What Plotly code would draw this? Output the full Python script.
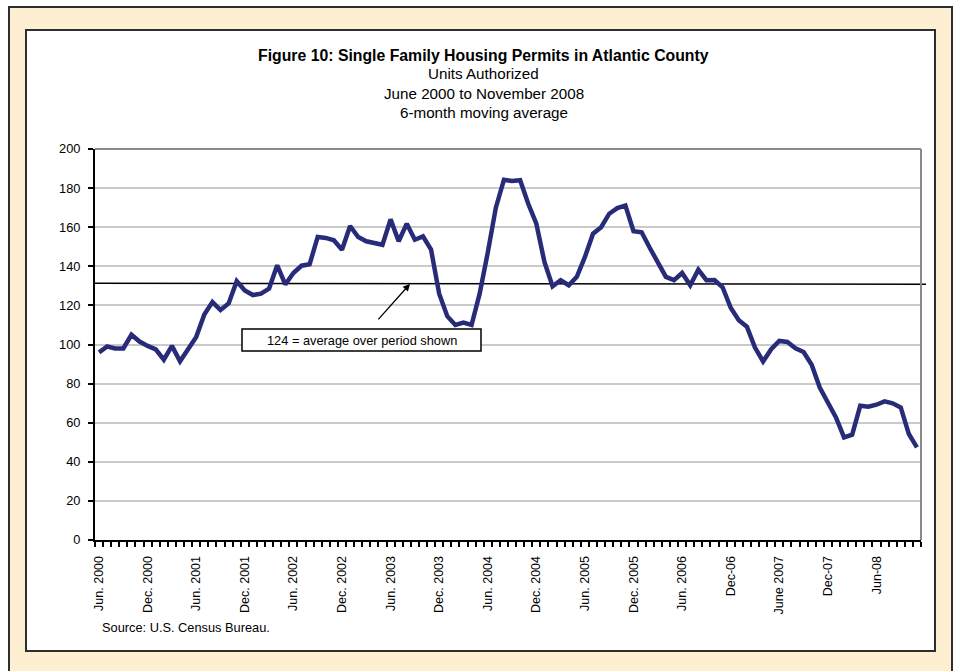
import plotly.graph_objects as go

# ---------------- data ----------------
tick_labels = ["Jun. 2000", "Dec. 2000", "Jun. 2001", "Dec. 2001", "Jun. 2002", "Dec. 2002",
               "Jun. 2003", "Dec. 2003", "Jun. 2004", "Dec. 2004", "Jun. 2005", "Dec. 2005",
               "Jun. 2006", "Dec-06", "June 2007", "Dec-07", "Jun-08"]
tick_positions = [0, 6, 12, 18, 24, 30, 36, 42, 48, 54, 60, 66, 72, 78, 84, 90, 96]

permits = [96, 99, 98, 98, 105, 101.5, 99.3, 97.5, 92.2, 99.3,
           91.4, 97.6, 103.9, 115.4, 121.7, 117.6, 121, 132.4, 127.6, 125.3,
           126, 128.6, 140.5, 130.7, 136.6, 140.3, 141, 155, 154.5, 153.3,
           148.5, 160.6, 155, 152.8, 152, 151, 164, 152.8, 161.8, 153.6,
           155.3, 148.5, 126, 114.5, 110, 111.2, 110, 126, 147, 170,
           184.3, 183.6, 184, 172, 161.8, 142.2, 129.8, 132.9, 130.3, 134.6,
           144.8, 156.7, 160, 166.9, 169.8, 171.1, 158, 157.4, 149.5, 142.2,
           134.6, 132.9, 136.6, 130.3, 138.3, 132.9, 133, 129.3, 118.8, 112.4,
           109.1, 98.4, 91.3, 97.6, 101.8, 101.3, 98.1, 96.2, 89.6, 78,
           70.4, 62.7, 52.5, 53.9, 68.7, 68.2, 69.2, 70.9, 69.9, 67.8,
           54.2, 47.4]
months = list(range(len(permits)))

avg_line_start = 131.3
avg_line_end = 130.8
avg_label = "124 = average over period shown"

# ---------------- layout helpers (pixel -> paper) ----------------
W, H = 956, 671
L, R, T, B = 95, 921, 149, 540


def px(xp):
    return (xp - L) / (R - L)


def py(yp):
    return (B - yp) / (B - T)


FONT = "Arial, 'Liberation Sans', sans-serif"
NAVY = "#282C78"

fig = go.Figure()
fig.add_trace(go.Scatter(x=months, y=permits, mode="lines",
                         line=dict(color=NAVY, width=4.5), hoverinfo="skip",
                         showlegend=False))

shapes = [
    # outer cream frame
    dict(type="rect", xref="paper", yref="paper", x0=px(9), x1=px(952), y0=py(680), y1=py(7),
         fillcolor="#FEEFD3", line=dict(color="#2E2E2E", width=2), layer="below"),
    # inner white panel
    dict(type="rect", xref="paper", yref="paper", x0=px(26), x1=px(935), y0=py(651), y1=py(30),
         fillcolor="white", line=dict(color="#2E2E2E", width=2), layer="below"),
    # average line
    dict(type="line", xref="paper", yref="y", x0=0, x1=px(926), y0=avg_line_start, y1=avg_line_end,
         line=dict(color="black", width=1.5), layer="below"),
    # plot-area top and right border
    dict(type="line", xref="paper", yref="paper", x0=0, x1=1, y0=1, y1=1,
         line=dict(color="#8A8A8A", width=2), layer="above"),
    dict(type="line", xref="paper", yref="paper", x0=1, x1=1, y0=0, y1=1,
         line=dict(color="#8A8A8A", width=2), layer="above"),
    # annotation box
    dict(type="rect", xref="paper", yref="paper", x0=px(242), x1=px(481), y0=py(351), y1=py(329),
         fillcolor="white", line=dict(color="black", width=1.5), layer="above"),
]

annotations = [
    dict(xref="paper", yref="paper", x=px(483.5), y=py(55), text="<b>Figure 10: Single Family Housing Permits in Atlantic County</b>",
         showarrow=False, font=dict(family=FONT, size=15.8, color="black"), xanchor="center", yanchor="middle"),
    dict(xref="paper", yref="paper", x=px(483.5), y=py(74), text="Units Authorized",
         showarrow=False, font=dict(family=FONT, size=15.2, color="black"), xanchor="center", yanchor="middle"),
    dict(xref="paper", yref="paper", x=px(483.5), y=py(93), text="June 2000 to November 2008",
         showarrow=False, font=dict(family=FONT, size=15.2, color="black"), xanchor="center", yanchor="middle"),
    dict(xref="paper", yref="paper", x=px(483.5), y=py(112), text="6-month moving average",
         showarrow=False, font=dict(family=FONT, size=15.2, color="black"), xanchor="center", yanchor="middle"),
    dict(xref="paper", yref="paper", x=px(361.5), y=py(340.5), text=avg_label,
         showarrow=False, font=dict(family=FONT, size=12.8, color="black"), xanchor="center", yanchor="middle"),
    dict(xref="paper", yref="paper", x=px(100), y=py(627), text="Source: U.S. Census Bureau.",
         showarrow=False, font=dict(family=FONT, size=12.8, color="black"), xanchor="left", yanchor="middle"),
    # arrow
    dict(xref="x", yref="y", x=38.4, y=131.0, ax=-33, ay=37, text="", showarrow=True,
         arrowhead=2, arrowsize=1.1, arrowwidth=1.3, arrowcolor="black"),
]

fig.update_layout(
    width=W, height=H,
    margin=dict(l=L, r=W - R, t=T, b=H - B, pad=0),
    paper_bgcolor="white", plot_bgcolor="rgba(0,0,0,0)",
    shapes=shapes, annotations=annotations, showlegend=False,
    font=dict(family=FONT, color="black"),
)

fig.update_xaxes(
    range=[-0.5, len(permits) - 0.5], tickmode="array", tickvals=tick_positions, ticktext=tick_labels,
    tickangle=-90, tickfont=dict(family=FONT, size=12.5, color="black"),
    ticks="outside", ticklen=9, tickcolor="rgba(0,0,0,0)",
    showgrid=False, zeroline=False, showline=True, linecolor="black", linewidth=2,
    minor=dict(tickmode="linear", tick0=-0.5, dtick=1, ticks="outside", ticklen=5,
               tickcolor="black", tickwidth=2, showgrid=False),
    automargin=False, fixedrange=True,
)
fig.update_yaxes(
    range=[0, 200], tickmode="linear", tick0=0, dtick=20,
    tickfont=dict(family=FONT, size=12.8, color="black"),
    ticks="outside", ticklen=5, tickcolor="black", tickwidth=1.5, ticklabelstandoff=5,
    showgrid=True, gridcolor="#CACACA", gridwidth=2,
    zeroline=False, showline=True, linecolor="black", linewidth=2,
    automargin=False, fixedrange=True,
)

fig.write_html("out.html", config={"displayModeBar": False})
